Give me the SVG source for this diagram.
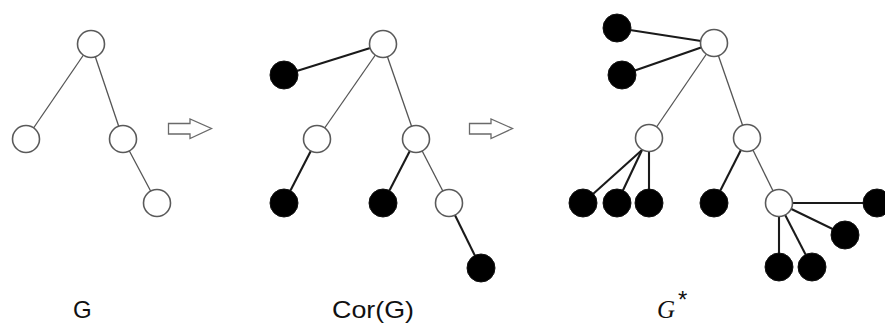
<svg xmlns="http://www.w3.org/2000/svg" width="885" height="323" viewBox="0 0 885 323">
  <style>
    .open { fill: #ffffff; stroke: #5a5a5a; stroke-width: 1.6; }
    .solid { fill: #000000; stroke: #111111; stroke-width: 1; }
    .thin { stroke: #555555; stroke-width: 1.3; fill: none; }
    .bold { stroke: #1a1a1a; stroke-width: 2.1; fill: none; }
    .step { fill: #ffffff; stroke: #6a6a6a; stroke-width: 1.3; stroke-linejoin: miter; }
    .label { font-family: "Liberation Sans", Arial, sans-serif; font-size: 24px; fill: #111111; }
    .math { font-family: "Liberation Serif", "Times New Roman", serif; font-style: italic; font-size: 25px; fill: #111111; }
  </style>
  <rect width="885" height="323" fill="#ffffff"/>

  <!-- connectors -->
  <g id="edges">
    <!-- G -->
    <line class="thin" x1="91" y1="44" x2="26" y2="139"/>
    <line class="thin" x1="91" y1="44" x2="123" y2="139"/>
    <line class="thin" x1="123" y1="139" x2="157" y2="203"/>
    <!-- Cor(G) -->
    <line class="bold" x1="383" y1="44" x2="284" y2="75"/>
    <line class="thin" x1="383" y1="44" x2="317" y2="139"/>
    <line class="thin" x1="383" y1="44" x2="416" y2="139"/>
    <line class="bold" x1="317" y1="139" x2="284" y2="203"/>
    <line class="bold" x1="416" y1="139" x2="383" y2="203"/>
    <line class="thin" x1="416" y1="139" x2="449" y2="203"/>
    <line class="bold" x1="449" y1="203" x2="481" y2="268"/>
    <!-- G* -->
    <line class="bold" x1="714" y1="43" x2="617" y2="28"/>
    <line class="bold" x1="714" y1="43" x2="622" y2="75"/>
    <line class="thin" x1="714" y1="43" x2="649" y2="138"/>
    <line class="thin" x1="714" y1="43" x2="747" y2="138"/>
    <line class="bold" x1="642" y1="150" x2="583" y2="203"/>
    <line class="bold" x1="642" y1="150" x2="617" y2="203"/>
    <line class="bold" x1="649" y1="150" x2="649" y2="203"/>
    <line class="bold" x1="747" y1="138" x2="714" y2="203"/>
    <line class="thin" x1="747" y1="138" x2="779" y2="203"/>
    <line class="bold" x1="779" y1="203" x2="877" y2="203"/>
    <line class="bold" x1="779" y1="203" x2="845" y2="235"/>
    <line class="bold" x1="779" y1="203" x2="779" y2="267"/>
    <line class="bold" x1="779" y1="203" x2="812" y2="267"/>
  </g>

  <!-- transformation arrows -->
  <g id="arrow-1">
    <path class="step" d="M168.5,123.5 H190 V119 L211.5,128.5 L190,138.5 V134 H168.5 Z"/>
  </g>
  <g id="arrow-2">
    <path class="step" d="M469.5,123.5 H491 V119 L512.5,128.5 L491,138.5 V134 H469.5 Z"/>
  </g>

  <!-- G -->
  <g id="g-root"><circle class="open" cx="91" cy="44" r="13.5"/></g>
  <g id="g-left"><circle class="open" cx="26" cy="139" r="13.5"/></g>
  <g id="g-right"><circle class="open" cx="123" cy="139" r="13.5"/></g>
  <g id="g-right-child"><circle class="open" cx="157" cy="203" r="13.5"/></g>

  <!-- Cor(G) -->
  <g id="c-root"><circle class="open" cx="383" cy="44" r="13.5"/></g>
  <g id="c-root-leaf"><circle class="solid" cx="284" cy="75" r="14"/></g>
  <g id="c-left"><circle class="open" cx="317" cy="139" r="13.5"/></g>
  <g id="c-right"><circle class="open" cx="416" cy="139" r="13.5"/></g>
  <g id="c-left-leaf"><circle class="solid" cx="284" cy="203" r="14"/></g>
  <g id="c-right-leaf"><circle class="solid" cx="383" cy="203" r="14"/></g>
  <g id="c-right-child"><circle class="open" cx="449" cy="203" r="13.5"/></g>
  <g id="c-right-child-leaf"><circle class="solid" cx="481" cy="268" r="14"/></g>

  <!-- G* -->
  <g id="s-root"><circle class="open" cx="714" cy="43" r="13.5"/></g>
  <g id="s-root-leaf-1"><circle class="solid" cx="617" cy="28" r="14"/></g>
  <g id="s-root-leaf-2"><circle class="solid" cx="622" cy="75" r="14"/></g>
  <g id="s-left"><circle class="open" cx="649" cy="138" r="13.5"/></g>
  <g id="s-right"><circle class="open" cx="747" cy="138" r="13.5"/></g>
  <g id="s-left-leaf-1"><circle class="solid" cx="583" cy="203" r="14"/></g>
  <g id="s-left-leaf-2"><circle class="solid" cx="617" cy="203" r="14"/></g>
  <g id="s-left-leaf-3"><circle class="solid" cx="649" cy="203" r="14"/></g>
  <g id="s-right-leaf"><circle class="solid" cx="714" cy="203" r="14"/></g>
  <g id="s-right-child"><circle class="open" cx="779" cy="203" r="13.5"/></g>
  <g id="s-rc-leaf-1"><circle class="solid" cx="877" cy="203" r="14"/></g>
  <g id="s-rc-leaf-2"><circle class="solid" cx="845" cy="235" r="14"/></g>
  <g id="s-rc-leaf-3"><circle class="solid" cx="779" cy="267" r="14"/></g>
  <g id="s-rc-leaf-4"><circle class="solid" cx="812" cy="267" r="14"/></g>

  <!-- captions -->
  <g id="captions">
    <text class="label" x="73" y="318">G</text>
    <text class="label" x="332" y="318" textLength="82" lengthAdjust="spacingAndGlyphs">Cor(G)</text>
    <text class="math" x="657" y="318">G</text>
    <text class="label" x="678" y="308" font-size="13">*</text>
  </g>
</svg>
